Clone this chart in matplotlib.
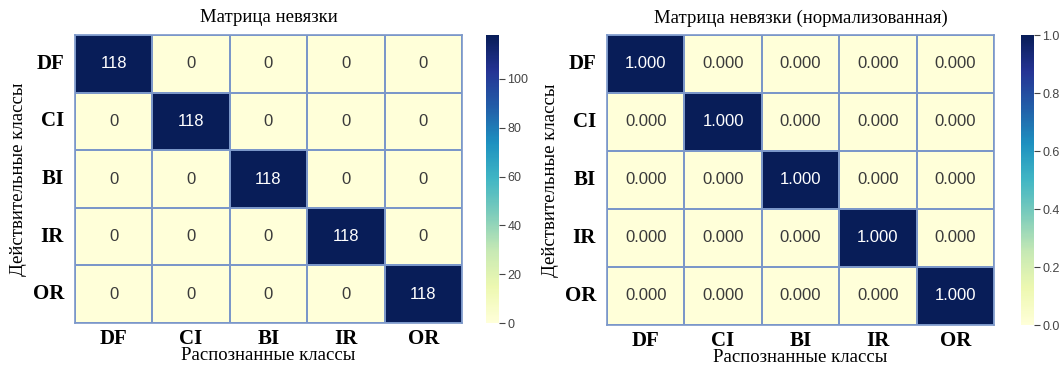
import numpy as np
import matplotlib
matplotlib.use("Agg")
import matplotlib.pyplot as plt
import seaborn as sns

classes = ["DF", "CI", "BI", "IR", "OR"]
counts = [
    [118, 0, 0, 0, 0],
    [0, 118, 0, 0, 0],
    [0, 0, 118, 0, 0],
    [0, 0, 0, 118, 0],
    [0, 0, 0, 0, 118],
]
normalized = [
    [1.0, 0.0, 0.0, 0.0, 0.0],
    [0.0, 1.0, 0.0, 0.0, 0.0],
    [0.0, 0.0, 1.0, 0.0, 0.0],
    [0.0, 0.0, 0.0, 1.0, 0.0],
    [0.0, 0.0, 0.0, 0.0, 1.0],
]
title_counts = "Матрица невязки"
title_norm = "Матрица невязки (нормализованная)"
xlabel = "Распознанные классы"
ylabel = "Действительные классы"
cbar_ticks_counts = [0, 20, 40, 60, 80, 100]
cbar_ticks_norm = [0.0, 0.2, 0.4, 0.6, 0.8, 1.0]

W, H = 1061, 372
fig = plt.figure(figsize=(W / 100, H / 100), dpi=100)

serif = ["Liberation Serif", "DejaVu Serif"]
sans = ["Liberation Sans", "DejaVu Sans"]

def px(x0, y0, x1, y1):
    return [x0 / W, 1 - y1 / H, (x1 - x0) / W, (y1 - y0) / H]

ax1 = fig.add_axes(px(75, 35, 462, 323))
cax1 = fig.add_axes(px(486, 35, 499, 323))
ax2 = fig.add_axes(px(607, 35, 994, 325))
cax2 = fig.add_axes(px(1021, 35, 1034, 325))

line_color = "#7b97c9"

def draw(ax, cax, data, fmt, ticks, ticklabels_fmt, title):
    arr = np.array(data)
    sns.heatmap(arr, ax=ax, cbar_ax=cax, cmap="YlGnBu", annot=True, fmt=fmt,
                linewidths=1.2, linecolor=line_color, square=False,
                annot_kws={"fontsize": 12, "family": sans},
                xticklabels=classes, yticklabels=classes)
    for t in ax.texts:
        if t.get_color() not in ("w", "white", "#ffffff") and t.get_text() and float(t.get_text()) == 0:
            t.set_color("#3a3a3a")
    for sp in ax.spines.values():
        sp.set_visible(True)
        sp.set_edgecolor(line_color)
        sp.set_linewidth(1.2)
    ax.tick_params(axis="y", length=0, pad=8)
    ax.tick_params(axis="x", length=0, pad=4)
    for lab in ax.get_xticklabels() + ax.get_yticklabels():
        lab.set_fontfamily(serif)
        lab.set_fontweight("bold")
        lab.set_fontsize(15)
        lab.set_color("black")
    plt.setp(ax.get_yticklabels(), rotation=0)
    ax.set_xlabel(xlabel, fontsize=13.5, family=serif, labelpad=-1)
    ax.set_ylabel(ylabel, fontsize=13.5, family=serif, labelpad=4)
    ax.set_title(title, fontsize=13.5, family=serif, pad=9)
    cax.set_yticks(ticks)
    cax.set_yticklabels([ticklabels_fmt.format(t) for t in ticks])
    cax.tick_params(length=4, width=0.8, color="#444444", labelsize=9, labelcolor="#444444", pad=2)
    for lab in cax.get_yticklabels():
        lab.set_fontfamily(sans)
    for sp in cax.spines.values():
        sp.set_visible(False)

draw(ax1, cax1, counts, "d", cbar_ticks_counts, "{:d}", title_counts)
draw(ax2, cax2, normalized, ".3f", cbar_ticks_norm, "{:.1f}", title_norm)

fig.savefig("out.png", dpi=100, facecolor="white")
